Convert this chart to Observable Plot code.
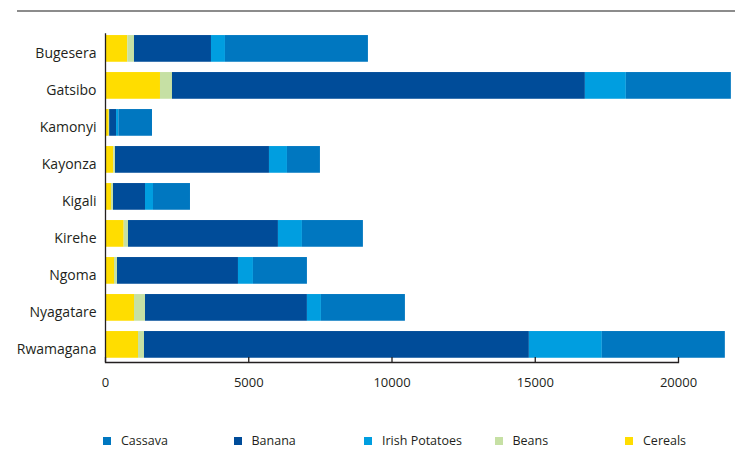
<!DOCTYPE html>
<html><head><meta charset="utf-8">
<script src="https://cdn.jsdelivr.net/npm/d3@7"></script>
<script src="https://cdn.jsdelivr.net/npm/@observablehq/plot@0.6"></script>
<style>
body{margin:0;background:#fff;font-family:"Open Sans",sans-serif;color:#231f20;}
#wrap{position:relative;width:743px;height:474px;overflow:hidden;}
#topline{position:absolute;left:17px;top:10px;width:718px;height:2px;background:#8c8c8c;}
#chart{position:absolute;left:0;top:0;}
#legend{position:absolute;left:103px;top:432px;display:flex;font-size:12.5px;color:#231f20;}
.item{width:130.5px;display:flex;align-items:center;white-space:nowrap;}
.sw{width:8px;height:8px;margin-right:10px;display:inline-block;}
</style></head>
<body>
<div id="wrap"><div id="topline"></div><div id="chart"></div><div id="legend"></div></div>
<script>
const districts = ["Bugesera","Gatsibo","Kamonyi","Kayonza","Kigali","Kirehe","Ngoma","Nyagatare","Rwamagana"];
const crops = ["Cereals","Beans","Banana","Irish Potatoes","Cassava"]; // stacking order, left to right
const legendOrder = ["Cassava","Banana","Irish Potatoes","Beans","Cereals"];
const cereals  = [778, 1919, 130, 290, 209, 652, 314, 1012, 1152];
const beans    = [234, 419, 15, 59, 70, 151, 105, 384, 209];
const banana   = [2687, 14412, 240, 5374, 1117, 5233, 4222, 5652, 13434];
const irish    = [488, 1430, 80, 628, 279, 838, 523, 489, 2547];
const cassava  = [4990, 3665, 1175, 1151, 1291, 2128, 1884, 2931, 4293];
const xTicks = [0, 5000, 10000, 15000, 20000];

const colors = {"Cassava":"#0077c0","Banana":"#004c99","Irish Potatoes":"#009ee0","Beans":"#c6e0a4","Cereals":"#ffdd00"};
const series = {"Cereals":cereals,"Beans":beans,"Banana":banana,"Irish Potatoes":irish,"Cassava":cassava};
const rows = [];
districts.forEach((d,i)=>{ crops.forEach(c=>rows.push({district:d, crop:c, value:series[c][i]})); });

const H = 400, mTop = 33.2, mBottom = 40.4, shift = 2.4;
const innerH = H - mTop - mBottom;
const chart = Plot.plot({
  width: 743, height: H,
  marginLeft: 105, marginRight: 65, marginTop: mTop, marginBottom: mBottom,
  style: {fontSize: "13px", fontFamily: "'Open Sans', sans-serif", color: "#231f20", background: "transparent"},
  x: {domain: [0, 20000], ticks: xTicks, tickSize: 0, tickPadding: 17.5, tickFormat: d => String(d), label: null},
  y: {domain: districts, paddingInner: 0.278, paddingOuter: 0.05, round: false, label: null, axis: null},
  color: {domain: crops, range: crops.map(c=>colors[c])},
  marks: [
    Plot.barX(rows, Plot.stackX({y: "district", x: "value", fill: "crop", order: crops})),
    Plot.axisY({tickSize: 0, tickPadding: 9, fontSize: 14, dy: 5, label: null}),
    Plot.ruleX([0], {stroke: "#231f20", strokeWidth: 1.3, insetBottom: -shift}),
    Plot.frame({anchor: "bottom", stroke: "#231f20", strokeWidth: 1.3, dy: shift}),
    Plot.tickX(xTicks, {x: d => d, insetTop: innerH - 5, dy: shift, stroke: "#231f20", strokeWidth: 1.3})
  ]
});
document.getElementById("chart").appendChild(chart);

const leg = document.getElementById("legend");
legendOrder.forEach(c=>{
  const it = document.createElement("div"); it.className="item";
  const sw = document.createElement("span"); sw.className="sw"; sw.style.background = colors[c];
  it.appendChild(sw); it.appendChild(document.createTextNode(c));
  leg.appendChild(it);
});
</script>
</body></html>
